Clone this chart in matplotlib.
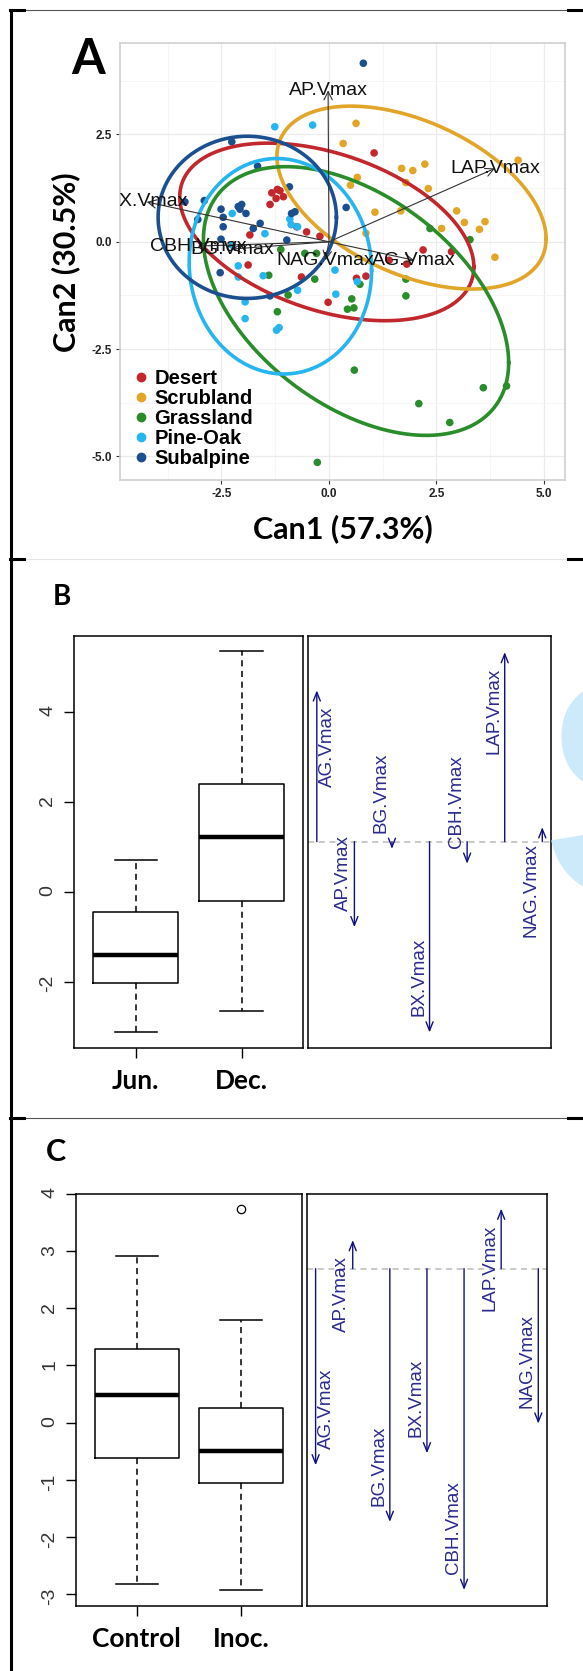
import matplotlib.pyplot as plt
import numpy as np
from matplotlib.lines import Line2D

plt.rcParams['font.family'] = ['Liberation Sans', 'DejaVu Sans']
plt.rcParams['axes.unicode_minus'] = False

# ---------------- panel A data (canonical scores) ----------------
groups = ['Desert', 'Scrubland', 'Grassland', 'Pine-Oak', 'Subalpine']
group_colors = ['#c1272d', '#e1a528', '#2a8c2a', '#26b5ee', '#1c4f8f']

desert_can1 = [-1.33, -1.14, -1.23, -1.06, -1.37, -1.20, 1.05, -1.84, -0.75, -0.52,
               -0.21, -1.88, -0.64, -0.02, 0.64, 0.86, 1.40, 1.81, 2.19, 2.85]
desert_can2 = [1.14, 1.19, 1.01, 1.05, 0.87, 1.22, 2.07, 0.16, 0.35, 0.23,
               0.13, -0.54, -0.82, -1.41, -0.85, -0.80, -0.43, -0.52, -0.19, -0.23]
scrub_can1 = [0.63, 0.33, 1.69, 1.95, 2.23, 0.66, 1.79, 2.31, 0.50, 1.07,
              1.67, 2.97, 3.15, 3.63, 3.50, 2.62, 0.86, 3.86, 4.40]
scrub_can2 = [2.76, 2.29, 1.71, 1.66, 1.81, 1.50, 1.38, 1.24, 1.32, 0.69,
              0.72, 0.72, 0.45, 0.47, 0.29, 0.31, 0.20, -0.36, 1.90]
grass_can1 = [-1.12, -0.56, -0.29, -1.40, -0.33, 0.72, 0.53, 0.43, 0.58, -1.20, -0.95,
              1.79, 1.79, 2.35, 3.28, 0.59, 2.09, 2.81, 3.59, 4.13, -0.27]
grass_can2 = [-0.18, -0.27, -0.27, -0.78, -0.87, -0.99, -1.33, -1.57, -1.54, -1.63, -1.24,
              -0.87, -1.26, 0.31, 0.05, -2.99, -3.77, -4.21, -3.40, -3.36, -5.14]
pine_can1 = [-1.26, -0.38, -2.25, -1.49, -0.91, -0.73, -2.25, -2.11, -2.11, -1.53,
             -1.95, -1.95, -1.22, -1.16, -0.73, 0.14, 0.66, 0.16, -0.88]
pine_can2 = [2.68, 2.72, 0.66, 0.19, 0.53, 0.35, -0.08, -0.56, -0.82, -0.79,
             -1.40, -1.79, -2.06, -2.00, -1.13, -0.66, -0.93, -1.22, 0.40]
sub_can1 = [0.80, -2.26, -1.66, -0.92, -3.35, -2.90, -3.05, -2.51, -2.46, -2.11, -2.03, -2.07,
            -1.93, -2.46, -1.60, -1.76, -0.87, -0.79, -0.98, -2.51, 0.40, -2.53, -1.37]
sub_can2 = [4.16, 2.33, 1.76, 1.28, 0.93, 0.96, 0.52, 0.76, 0.57, 0.82, 0.87, 0.76,
            0.66, 0.35, 0.43, 0.31, 0.66, 0.70, 0.04, 0.06, 0.80, -0.72, -1.26]

# ellipse centre and spread (covariance-like) per group
ell_cx = [-0.05, 1.92, 0.63, -1.13, -1.90]
ell_cy = [0.23, 1.03, -1.38, -0.57, 0.57]
ell_sxx = [11.7, 9.8, 12.6, 4.5, 4.3]
ell_syy = [4.28, 4.54, 9.8, 6.3, 3.57]
ell_sxy = [-2.8, -3.0, -5.1, -0.2, 0.0]

# structure vectors
vec_names = ['AP.Vmax', 'LAP.Vmax', 'BX.Vmax', 'CBH.Vmax', 'BG.Vmax', 'NAG.Vmax', 'AG.Vmax']
vec_can1 = [-0.02, 3.86, -4.24, -3.05, -2.26, -0.08, 1.98]
vec_can2 = [3.53, 1.71, 0.93, -0.10, -0.17, -0.43, -0.43]

# ---------------- panel B / C data ----------------
season_names = ['Jun.', 'Dec.']
season_lo = [-3.13, -2.65]
season_q1 = [-2.04, -0.21]
season_med = [-1.40, 1.22]
season_q3 = [-0.46, 2.38]
season_hi = [0.70, 5.34]
season_out = [[], []]

treat_names = ['Control', 'Inoc.']
treat_lo = [-2.82, -2.94]
treat_q1 = [-0.63, -1.06]
treat_med = [0.49, -0.50]
treat_q3 = [1.29, 0.26]
treat_hi = [2.92, 1.80]
treat_out = [[], [3.73]]

enz_names = ['AG.Vmax', 'AP.Vmax', 'BG.Vmax', 'BX.Vmax', 'CBH.Vmax', 'LAP.Vmax', 'NAG.Vmax']
season_base = 1.11
season_tip = [4.47, -0.79, 0.95, -3.13, 0.62, 5.32, 1.43]
treat_base = 2.69
treat_tip = [-0.75, 3.19, -1.74, -0.54, -2.93, 3.74, -0.02]

W, H = 583, 1671
fig = plt.figure(figsize=(W / 100, H / 100), dpi=100)


def rect(l, t, r, b):
    return [l / W, 1 - b / H, (r - l) / W, (b - t) / H]


# ---------------- frame lines ----------------
def hline(y, thin_color='#555555'):
    yy = 1 - y / H
    fig.add_artist(Line2D([23 / W, 567 / W], [yy, yy], color=thin_color, lw=0.8))
    fig.add_artist(Line2D([10 / W, 24 / W], [yy, yy], color='black', lw=2.2))
    fig.add_artist(Line2D([568 / W, 1.0], [yy, yy], color='black', lw=2.2))


fig.add_artist(Line2D([10.5 / W, 10.5 / W], [0, 1 - 10 / H], color='black', lw=2.2))
hline(10)
hline(559, '#e4e4e4')
hline(1118)

# faint watermark shape on the right edge
fig.text(648 / W, 1 - 815 / H, 'S', fontsize=230, fontweight='bold', color='#cdeafb',
         ha='center', va='center', zorder=0)

# ---------------- panel A ----------------
axA = fig.add_axes(rect(120, 43.5, 565, 480))
pts_x = [desert_can1, scrub_can1, grass_can1, pine_can1, sub_can1]
pts_y = [desert_can2, scrub_can2, grass_can2, pine_can2, sub_can2]
for gx, gy, c in zip(pts_x, pts_y, group_colors):
    axA.scatter(gx, gy, s=30, color=c, edgecolor='none', zorder=3)

t = np.linspace(0, 2 * np.pi, 300)
for i, c in enumerate(group_colors):
    S = np.array([[ell_sxx[i], ell_sxy[i]], [ell_sxy[i], ell_syy[i]]])
    L = np.linalg.cholesky(S)
    e = L @ np.vstack([np.cos(t), np.sin(t)])
    axA.plot(ell_cx[i] + e[0], ell_cy[i] + e[1], color=c, lw=2.6, zorder=4)

for name, vx, vy in zip(vec_names, vec_can1, vec_can2):
    axA.annotate('', xy=(vx, vy), xytext=(0, 0),
                 arrowprops=dict(arrowstyle='->,head_length=0.5,head_width=0.25',
                                 color='#333333', lw=0.8, shrinkA=0, shrinkB=0,
                                 mutation_scale=12), zorder=5)
    axA.text(vx, vy, name, ha='center', va='center', fontsize=14, color='#111111',
             clip_on=True, zorder=6)

axA.set_xlim(-4.86, 5.49)
axA.set_ylim(-5.55, 4.62)
axA.set_xticks([-2.5, 0, 2.5, 5])
axA.set_xticklabels(['-2.5', '0.0', '2.5', '5.0'])
axA.set_yticks([-5, -2.5, 0, 2.5])
axA.set_yticklabels(['-5.0', '-2.5', '0.0', '2.5'])
axA.set_xticks([-3.75, -1.25, 1.25, 3.75], minor=True)
axA.set_yticks([-3.75, -1.25, 1.25, 3.75], minor=True)
axA.grid(True, which='major', color='#ebebeb', lw=0.9)
axA.grid(True, which='minor', color='#f5f5f5', lw=0.6)
axA.set_axisbelow(True)
axA.tick_params(which='major', length=3, color='#333333', labelsize=8.5, pad=3)
axA.tick_params(which='minor', length=0)
for lab in axA.get_xticklabels() + axA.get_yticklabels():
    lab.set_fontweight('bold')
    lab.set_color('#222222')
for sp in axA.spines.values():
    sp.set_color('#cfcfcf')
    sp.set_linewidth(1.2)
axA.set_xlabel('Can1 (57.3%)', family='Lato', fontweight='bold', fontsize=22, labelpad=10)
axA.set_ylabel('Can2 (30.5%)', family='Lato', fontweight='bold', fontsize=22, labelpad=8)

handles = [Line2D([], [], marker='o', ls='', color=c, markersize=6) for c in group_colors]
axA.legend(handles, groups, loc='upper left', bbox_to_anchor=(0.03, 0.255), frameon=False,
           prop=dict(family='Liberation Sans', weight='bold', size=14.5),
           labelspacing=0.05, handlelength=0.8, handletextpad=0.25, borderpad=0,
           borderaxespad=0)

fig.text(88 / W, 1 - 60 / H, 'A', family='Lato', fontweight='bold', fontsize=35,
         ha='center', va='center')


# ---------------- panels B and C ----------------
def draw_box(ax, names, lo, q1, med, q3, hi, out):
    stats = [dict(whislo=lo[i], q1=q1[i], med=med[i], q3=q3[i], whishi=hi[i],
                  fliers=out[i], label=names[i]) for i in range(len(names))]
    ax.bxp(stats, positions=[1, 2], widths=0.8, capwidths=0.4,
           boxprops=dict(color='black', lw=1.1),
           whiskerprops=dict(color='black', lw=1.1, ls=(0, (4, 3))),
           capprops=dict(color='black', lw=1.1),
           medianprops=dict(color='black', lw=3.2),
           flierprops=dict(marker='o', mfc='none', mec='black', ms=6, mew=0.9),
           manage_ticks=False)
    allv = lo + hi + [v for o in out for v in o]
    span = max(allv) - min(allv)
    ylim = (min(allv) - 0.04 * span, max(allv) + 0.04 * span)
    ax.set_ylim(ylim)
    ax.set_xlim(0.42, 2.58)
    ax.set_xticks([1, 2])
    ax.set_xticklabels(names)
    for lab in ax.get_xticklabels():
        lab.set_family('Lato')
        lab.set_fontweight('bold')
        lab.set_fontsize(19)
    ax.tick_params(axis='x', length=7, pad=8, width=1)
    ax.tick_params(axis='y', length=7, pad=6, width=1, labelsize=14, labelrotation=90,
                   labelcolor='#333333')
    for sp in ax.spines.values():
        sp.set_linewidth(1.1)
    return ylim


def draw_arrows(ax, base, tips, ylim):
    n = len(enz_names)
    pos = np.arange(1, n + 1)
    ax.set_xlim(1 - 0.04 * (n - 1), n + 0.04 * (n - 1))
    ax.set_ylim(ylim)
    ax.set_xticks([])
    ax.set_yticks([])
    ax.axhline(base, color='#bbbbbb', lw=1.1, ls=(0, (4, 3)))
    for i, (name, tip) in enumerate(zip(enz_names, tips)):
        ax.annotate('', xy=(pos[i], tip), xytext=(pos[i], base),
                    arrowprops=dict(arrowstyle='->,head_length=0.45,head_width=0.18',
                                    color='#101080', lw=1.0, shrinkA=0, shrinkB=0,
                                    mutation_scale=14))
        side = 1 if i == 0 else -1
        up = tip > base
        ax.annotate(name, xy=(pos[i], tip), xytext=(side * 11, -16 if up else 16),
                    textcoords='offset pixels', rotation=90, ha='center',
                    va='top' if up else 'bottom', fontsize=13.5, color='#2a2a90')
    for sp in ax.spines.values():
        sp.set_linewidth(1.1)


axB = fig.add_axes(rect(74.3, 636, 303, 1047.7))
ylimB = draw_box(axB, season_names, season_lo, season_q1, season_med, season_q3,
                 season_hi, season_out)
axB.set_yticks([-2, 0, 2, 4])
axB2 = fig.add_axes(rect(307.8, 636, 551.3, 1047.7))
draw_arrows(axB2, season_base, season_tip, ylimB)
fig.text(61.5 / W, 1 - 597 / H, 'B', family='Lato', fontweight='bold', fontsize=20,
         ha='center', va='center')

axC = fig.add_axes(rect(76.2, 1194, 301.9, 1605.7))
ylimC = draw_box(axC, treat_names, treat_lo, treat_q1, treat_med, treat_q3,
                 treat_hi, treat_out)
axC.set_yticks([-3, -2, -1, 0, 1, 2, 3, 4])
axC2 = fig.add_axes(rect(306.7, 1194, 547.2, 1605.7))
draw_arrows(axC2, treat_base, treat_tip, ylimC)
fig.text(56 / W, 1 - 1152 / H, 'C', family='Lato', fontweight='bold', fontsize=22,
         ha='center', va='center')

fig.savefig('out.png', dpi=100)
